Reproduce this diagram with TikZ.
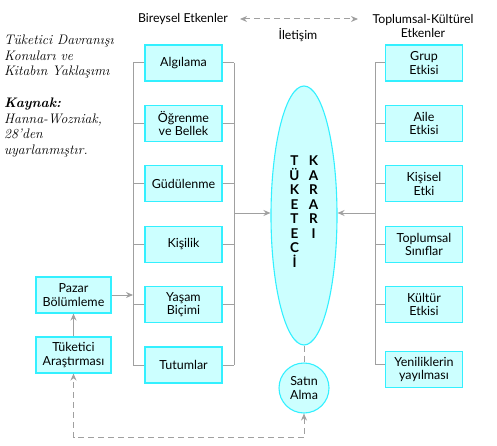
\documentclass[tikz,border=0pt]{standalone}
\usepackage{fontspec}
\setsansfont{Lato}
\usetikzlibrary{arrows.meta,shapes.geometric}
\definecolor{boxfill}{HTML}{CCFFFF}
\definecolor{boxline}{HTML}{33F0FF}
\definecolor{conn}{HTML}{A0A0A0}
\begin{document}
\begin{tikzpicture}[x=1pt,y=-1pt,
  box/.style={draw=boxline, fill=boxfill, line width=1.1pt, minimum width=77pt, minimum height=36pt,
    inner sep=1pt, align=center, font=\sffamily\fontsize{12.5}{13.5}\selectfont},
  ln/.style={draw=conn, line width=1pt},
  arr/.style={ln, -{Stealth[length=7pt,width=6pt]}},
  darr/.style={ln, dashed, dash pattern=on 6pt off 4pt, {Stealth[length=7pt,width=6pt]}-{Stealth[length=7pt,width=6pt]}},
  dln/.style={ln, dash pattern=on 6pt off 4pt},
  lbl/.style={font=\sffamily\fontsize{12.3}{14}\selectfont, align=center, inner sep=0pt},
  note/.style={font=\itshape\fontsize{13.8}{15.5}\selectfont, align=left, anchor=north west, inner sep=0pt},
  letters/.style={font=\sffamily\bfseries\fontsize{13.5}{14.5}\selectfont, align=center, anchor=north, inner sep=0pt}]
\useasboundingbox (0,0) rectangle (497,446);

% left notes
\node[note] (n1) at (4,35) {Tüketici Davranışı\\Konuları ve\\Kitabın Yaklaşımı};
\node[note] (n2) at (4,98) {\textbf{Kaynak:}\\Hanna-Wozniak,\\28'den\\uyarlanmıştır.};

% top labels
\node[lbl] (bir) at (183,19) {Bireysel Etkenler};
\node[lbl] (ile) at (298,35) {İletişim};
\node[lbl] (top) at (423,26) {Toplumsal-Kültürel\\Etkenler};
\coordinate (cl) at (240,19);
\coordinate (cr) at (358,19);
\draw[darr] (cl) -- (cr);

% left column
\node[box] (alg) at (183.5,63) {Algılama};
\node[box] (ogr) at (183.5,123.4) {Öğrenme\\ve Bellek};
\node[box] (gud) at (183.5,183.8) {Güdülenme};
\node[box] (kis) at (183.5,244.2) {Kişilik};
\node[box] (yas) at (183.5,304.6) {Yaşam\\Biçimi};
\node[box] (tut) at (183.5,365) {Tutumlar};

% right column
\node[box] (gru) at (424,63) {Grup\\Etkisi};
\node[box] (ail) at (424,123.4) {Aile\\Etkisi};
\node[box] (kse) at (424,183.8) {Kişisel\\Etki};
\node[box] (tsn) at (424,244.2) {Toplumsal\\Sınıflar};
\node[box] (kul) at (424,304.6) {Kültür\\Etkisi};
\node[box] (yen) at (424,369.5) {Yeniliklerin\\yayılması};

% ellipse
\node[ellipse, draw=boxline, fill=boxfill, line width=1.1pt, minimum width=66pt, minimum height=259pt, inner sep=0pt] (ell) at (304,215.5) {};
\node[letters] (tk) at (294.5,156) {T\\Ü\\K\\E\\T\\E\\C\\İ};
\node[letters] (kr) at (313.5,156) {K\\A\\R\\A\\R\\I};

% satın alma
\node[circle, draw=boxline, fill=boxfill, line width=1.1pt, minimum size=50pt, inner sep=0pt, align=center,
  font=\sffamily\fontsize{12.5}{13.5}\selectfont] (sat) at (304,388) {Satın\\Alma};

% left-side boxes
\node[box, minimum width=75pt] (paz) at (73.5,295) {Pazar\\Bölümleme};
\node[box, minimum width=75pt] (tuk) at (73.5,355) {Tüketici\\Araştırması};

% brackets left group
\coordinate (lbt) at (133,63);
\coordinate (lbb) at (133,365);
\coordinate (rbt) at (234,63);
\coordinate (rbb) at (234,365);
\draw[ln] (lbt) -- (lbb);
\draw[ln] (rbt) -- (rbb);
\foreach \n in {alg,ogr,gud,kis,yas,tut}{
  \draw[ln] (\n.west) -- (\n.west -| lbt);
  \draw[ln] (\n.east) -- (\n.east -| rbt);
}
\coordinate (rbm) at (234,213);
\draw[arr] (rbm) -- (ell.west |- rbm);

% right bracket
\coordinate (qbt) at (375,63);
\coordinate (qbb) at (375,364);
\draw[ln] (qbt) -- (qbb);
\foreach \n in {gru,ail,kse,tsn,kul}{
  \draw[ln] (\n.west) -- (\n.west -| qbt);
}
\draw[ln] (qbb) -- (qbb -| yen.west);
\coordinate (qbm) at (375,213);
\draw[arr] (qbm) -- (ell.east |- qbm);

% left connectors
\draw[arr] (paz.east) -- (paz.east -| lbt);
\draw[arr] (tuk.north) -- (paz.south);

% dashed
\draw[dln] (ell.south) -- (sat.north);
\draw[darr] (sat.south) -- ++(0,24) -| (tuk.south);
\end{tikzpicture}
\end{document}
